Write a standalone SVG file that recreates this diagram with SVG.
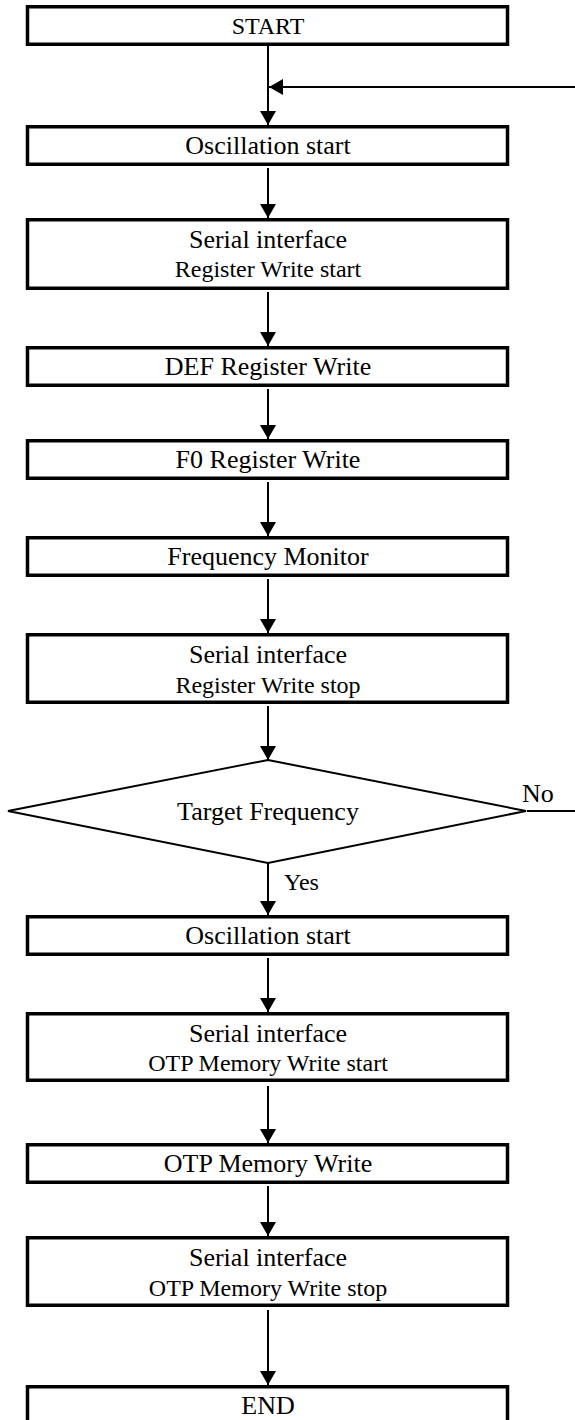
<svg xmlns="http://www.w3.org/2000/svg" width="575" height="1420" viewBox="0 0 575 1420">
  <style>
    .box { fill: #ffffff; stroke: #000000; stroke-width: 3.5; }
    .dia { fill: #ffffff; stroke: #000000; stroke-width: 2; }
    .t { font-family: "Liberation Serif", "Times New Roman", serif; font-size: 26px; fill: #000000; text-anchor: middle; }
    .t2 { font-family: "Liberation Serif", "Times New Roman", serif; font-size: 24px; fill: #000000; text-anchor: middle; }
    .lbl { font-family: "Liberation Serif", "Times New Roman", serif; fill: #000000; }
    .c { fill: none; stroke: #000000; stroke-width: 2; }
  </style>
  <defs>
    <marker id="ah" viewBox="0 0 14 16" markerWidth="14" markerHeight="16" refX="14" refY="8" orient="auto" markerUnits="userSpaceOnUse">
      <path d="M0,0 L14,8 L0,16 Z" fill="#000000"/>
    </marker>
  </defs>
  <rect width="575" height="1420" fill="#ffffff"/>

  <g id="connectors">
    <line class="c" x1="268" y1="46" x2="268" y2="125" marker-end="url(#ah)"/>
    <line class="c" x1="575" y1="87" x2="269" y2="87" marker-end="url(#ah)"/>
    <line class="c" x1="268" y1="168" x2="268" y2="218" marker-end="url(#ah)"/>
    <line class="c" x1="268" y1="292" x2="268" y2="346" marker-end="url(#ah)"/>
    <line class="c" x1="268" y1="389" x2="268" y2="439" marker-end="url(#ah)"/>
    <line class="c" x1="268" y1="482" x2="268" y2="536" marker-end="url(#ah)"/>
    <line class="c" x1="268" y1="579" x2="268" y2="633" marker-end="url(#ah)"/>
    <line class="c" x1="268" y1="706" x2="268" y2="760" marker-end="url(#ah)"/>
    <line class="c" x1="268" y1="863" x2="268" y2="915" marker-end="url(#ah)"/>
    <line class="c" x1="268" y1="958" x2="268" y2="1012" marker-end="url(#ah)"/>
    <line class="c" x1="268" y1="1086" x2="268" y2="1143" marker-end="url(#ah)"/>
    <line class="c" x1="268" y1="1186" x2="268" y2="1236" marker-end="url(#ah)"/>
    <line class="c" x1="268" y1="1310" x2="268" y2="1385" marker-end="url(#ah)"/>
    <line class="c" x1="527" y1="811" x2="575" y2="811"/>
    <text class="lbl" x="522" y="802" font-size="26">No</text>
    <text class="lbl" x="284" y="890" font-size="24">Yes</text>
  </g>

  <g id="start">
    <rect class="box" x="27.5" y="6.75" width="480" height="37.5"/>
    <text class="t2" x="268" y="34">START</text>
  </g>
  <g id="osc1">
    <rect class="box" x="27.5" y="126.75" width="480" height="37.5"/>
    <text class="t" x="268" y="154">Oscillation start</text>
  </g>
  <g id="rw-start">
    <rect class="box" x="27.5" y="219.75" width="480" height="68.5"/>
    <text class="t" x="268" y="248">Serial interface</text>
    <text class="t2" x="268" y="277">Register Write start</text>
  </g>
  <g id="def">
    <rect class="box" x="27.5" y="347.75" width="480" height="37.5"/>
    <text class="t" x="268" y="375">DEF Register Write</text>
  </g>
  <g id="f0">
    <rect class="box" x="27.5" y="440.75" width="480" height="37.5"/>
    <text class="t" x="268" y="468">F0 Register Write</text>
  </g>
  <g id="freq">
    <rect class="box" x="27.5" y="537.75" width="480" height="37.5"/>
    <text class="t" x="268" y="565">Frequency Monitor</text>
  </g>
  <g id="rw-stop">
    <rect class="box" x="27.5" y="634.75" width="480" height="67.5"/>
    <text class="t" x="268" y="663">Serial interface</text>
    <text class="t2" x="268" y="693">Register Write stop</text>
  </g>
  <g id="target">
    <polygon class="dia" points="268,760 526,811 268,863 8,811"/>
    <text class="t" x="268" y="820">Target Frequency</text>
  </g>
  <g id="osc2">
    <rect class="box" x="27.5" y="916.75" width="480" height="37.5"/>
    <text class="t" x="268" y="944">Oscillation start</text>
  </g>
  <g id="otp-start">
    <rect class="box" x="27.5" y="1013.75" width="480" height="66.5"/>
    <text class="t" x="268" y="1042">Serial interface</text>
    <text class="t2" x="268" y="1071">OTP Memory Write start</text>
  </g>
  <g id="otp-write">
    <rect class="box" x="27.5" y="1144.75" width="480" height="37.5"/>
    <text class="t" x="268" y="1172">OTP Memory Write</text>
  </g>
  <g id="otp-stop">
    <rect class="box" x="27.5" y="1237.75" width="480" height="67.5"/>
    <text class="t" x="268" y="1266">Serial interface</text>
    <text class="t2" x="268" y="1296">OTP Memory Write stop</text>
  </g>
  <g id="end">
    <rect class="box" x="27.5" y="1386.75" width="480" height="40"/>
    <text class="t" x="268" y="1414">END</text>
  </g>
</svg>
